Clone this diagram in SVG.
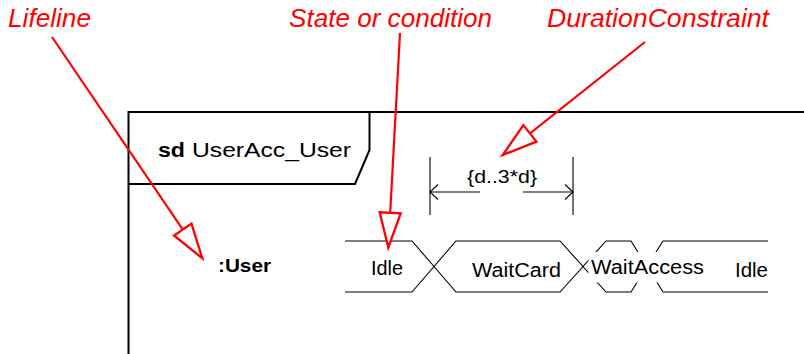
<svg xmlns="http://www.w3.org/2000/svg" width="804" height="354" viewBox="0 0 804 354">
<style>
.frame{fill:none;stroke:#000;stroke-width:2}
.tl{fill:none;stroke:#000;stroke-width:1.1}
.dim{fill:none;stroke:#000;stroke-width:1.1}
.ann{fill:none;stroke:#f00;stroke-width:2.2}
.t{font-family:"Liberation Sans",Arial,sans-serif;fill:#000}
.red{font-family:"Liberation Sans",Arial,sans-serif;font-style:italic;fill:#f00;font-size:25px}
</style>
<defs>
<marker id="hollow" markerUnits="userSpaceOnUse" markerWidth="40" markerHeight="30" viewBox="-2 -12 38 24" refX="33" refY="0" orient="auto">
<path d="M0,-10 L33,0 L0,10 Z" fill="#fff" stroke="#f00" stroke-width="2.2" stroke-linejoin="miter"/>
</marker>
</defs>
<rect width="804" height="354" fill="#fff"/>
<g id="frame">
<path class="frame" d="M128.5,354 L128.5,112 L804,112"/>
<path class="frame" d="M369.5,112 L369.5,150 L355,184 L128.5,184"/>
<text class="t" x="158" y="156.5" font-size="20" font-weight="bold" textLength="27" lengthAdjust="spacingAndGlyphs">sd</text>
<text class="t" x="192" y="156.5" font-size="20" textLength="159" lengthAdjust="spacingAndGlyphs">UserAcc_User</text>
</g>
<g id="lifeline">
<text class="t" x="218" y="272" font-size="18.5" font-weight="bold" textLength="53" lengthAdjust="spacingAndGlyphs">:User</text>
</g>
<g id="timeline">
<path class="tl" d="M345,241 L412,241 L434,266.5 L412,292 L345,292"/>
<path class="tl" d="M560,241 L456,241 L434,266.5 L456,292 L560,292 L583,266.5 Z"/>
<path class="tl" d="M631,241 L606,241 L583,266.5 L606,292 L631,292 L647,266.5 Z"/>
<path class="tl" d="M768,241 L663,241 L647,266.5 L663,292 L768,292"/>
<rect x="588.5" y="252" width="118" height="30.5" fill="#fff"/>
</g>
<g id="state-idle1"><text class="t" x="371" y="275" font-size="20" textLength="32" lengthAdjust="spacingAndGlyphs">Idle</text></g>
<g id="state-waitcard"><text class="t" x="472" y="277" font-size="20" textLength="89" lengthAdjust="spacingAndGlyphs">WaitCard</text></g>
<g id="state-waitaccess"><text class="t" x="591" y="273.5" font-size="20" textLength="113" lengthAdjust="spacingAndGlyphs">WaitAccess</text></g>
<g id="state-idle2"><text class="t" x="735" y="276.5" font-size="20" textLength="33" lengthAdjust="spacingAndGlyphs">Idle</text></g>
<g id="duration">
<path class="dim" d="M430,157 L430,215 M573,157 L573,215"/>
<path class="dim" d="M430,192 L480,192 M523,192 L573,192"/>
<path class="dim" d="M438,184.5 L430,192 L438,199.5 M565,184.5 L573,192 L565,199.5"/>
<text class="t" x="467" y="183" font-size="18.5" textLength="70" lengthAdjust="spacingAndGlyphs">{d..3*d}</text>
</g>
<g id="annotations">
<text class="red" x="8" y="27" textLength="83" lengthAdjust="spacingAndGlyphs">Lifeline</text>
<text class="red" x="289" y="27" textLength="203" lengthAdjust="spacingAndGlyphs">State or condition</text>
<text class="red" x="547" y="27" textLength="222" lengthAdjust="spacingAndGlyphs">DurationConstraint</text>
</g>
<g id="connectors">
<path class="ann" d="M52,37 L202.3,258.3" marker-end="url(#hollow)"/>
<path class="ann" d="M400,33 L388.3,247.5" marker-end="url(#hollow)"/>
<path class="ann" d="M645,42 L502.7,155" marker-end="url(#hollow)"/>
</g>
</svg>
